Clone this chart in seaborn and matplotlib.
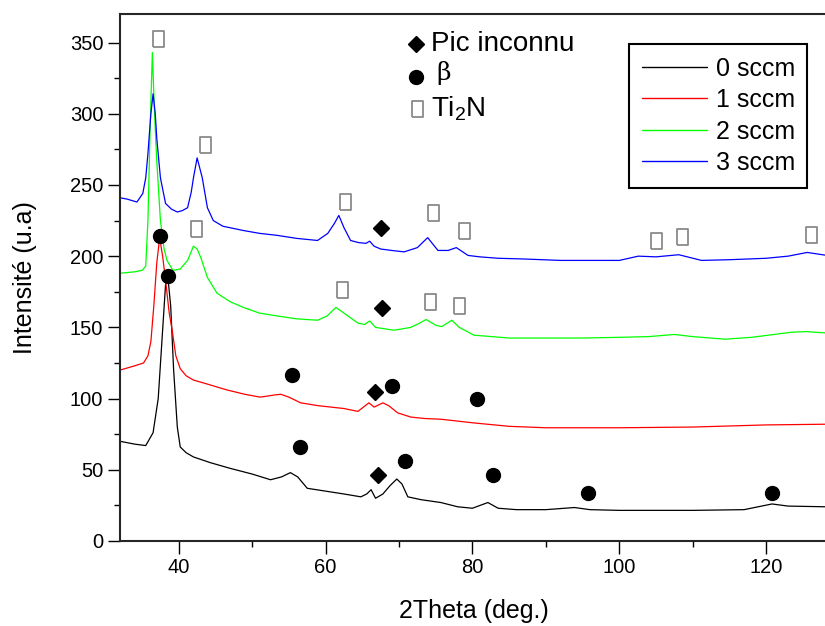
import matplotlib.pyplot as plt
import pandas as pd
import seaborn as sns
from matplotlib.lines import Line2D
from matplotlib.ticker import MultipleLocator

# values
x_0 = [32, 34, 35.5, 36.5, 37.2, 37.7, 38.2, 38.5, 38.9, 39.3, 39.8, 40.2, 41, 42, 44.3, 47, 50, 52.5, 54,
       55.2, 56.2, 57.5, 60, 62.5, 64.8, 65.6, 66.2, 66.8, 67.8, 68.8, 69.7, 70.4, 71.2, 73, 75.7, 78, 80,
       82.1, 83.5, 86, 90, 93.9, 96, 100, 110, 117, 120.8, 123, 128.3]
y_0 = [70, 68, 67, 76, 100, 140, 180, 186, 165, 120, 80, 66, 62, 59, 55, 51, 47, 43, 45,
       48, 45, 37, 35, 33, 31, 33, 36, 30, 33, 39, 43.5, 40, 31, 29, 27, 24, 23,
       27, 23, 22, 22, 23.5, 22, 21.5, 21.5, 22, 26, 24.5, 24]

x_1 = [32, 34, 35.2, 35.8, 36.2, 36.6, 37.0, 37.4, 37.8, 38.2, 38.7, 39.1, 39.6, 40.2, 41, 42, 44, 46.6,
       49, 51.1, 53, 53.9, 55, 56.6, 59, 62.5, 64.4, 65.9, 66.6, 67.8, 68.6, 69.8, 71.6, 73.5, 75.7, 80,
       85, 90, 100, 110, 120, 128.3]
y_1 = [120, 123, 125, 130, 140, 165, 195, 213, 200, 183, 160, 148, 130, 121, 116, 113, 110, 106,
       103, 101, 102.5, 103, 101, 97, 95, 93, 91, 97, 94, 97, 95, 90, 87, 86, 85.5, 83,
       80.5, 79.5, 79.5, 80, 81.5, 82]

x_2 = [32, 34, 35, 35.5, 35.8, 36.1, 36.4, 36.7, 37, 37.5, 38, 38.4, 39.2, 40.2, 41.2, 42, 42.5, 43,
       43.9, 45.2, 47, 48.8, 51, 53.4, 56, 58.9, 60.2, 61.4, 62.5, 64.4, 65.3, 66, 66.8, 68, 69.3, 70.5,
       71.6, 72.8, 73.7, 75, 75.8, 77.2, 78.2, 80.2, 85, 90, 95, 100, 104, 107.5, 110, 114.4, 118, 123.5,
       125.5, 128.3]
y_2 = [188, 189, 190, 193, 225, 290, 343, 300, 267, 225, 205, 197, 190, 191, 197, 207, 205, 199,
       185, 174, 168, 164, 160, 158, 156, 155, 158, 164, 160, 153, 152, 154.5, 150, 149, 148, 149,
       150, 153, 155.5, 151.5, 150.5, 155, 150, 144.5, 142.5, 142.5, 142.5, 143, 143.5, 145, 143.5, 141.7,
       143, 146.6, 147, 146]

x_3 = [32, 33, 34.3, 35.1, 35.5, 35.8, 36.2, 36.5, 36.8, 37, 37.5, 38.2, 39, 39.8, 40.5, 41.2, 41.7, 42,
       42.5, 43.2, 43.9, 44.7, 46, 48.8, 51, 53.4, 56, 58.9, 60.3, 61.2, 61.8, 62.5, 63.4, 64.5, 65.5, 66,
       66.6, 67.5, 69, 70.7, 72.5, 73.9, 75.3, 76.7, 77.8, 79.4, 81, 83.5, 87, 92, 97, 100, 102.6, 105,
       108.1, 111.2, 115, 120, 123, 125.6, 128.3]
y_3 = [241, 240, 238, 244, 255, 272, 300, 314, 300, 283, 255, 237, 233, 231, 232, 234, 245, 255,
       269, 255, 234, 225, 221, 218, 216, 214.6, 212.5, 211, 216, 223, 228.6, 220, 211, 209.5, 209, 210.5,
       207, 205, 204, 203, 206, 213, 204, 204, 206, 200.5, 199.5, 198.5, 198, 197, 197, 197, 200, 199.5,
       201, 197, 197.5, 198.5, 200, 202.6, 200.5]

flows = ["0 sccm", "1 sccm", "2 sccm", "3 sccm"]
colors = ["black", "red", "#00ff00", "blue"]

# peak labels
unknown_x = [67.1, 66.7, 67.7, 67.5]
unknown_y = [46.3, 104.5, 163.4, 219.5]
beta_x = [38.6, 37.5, 55.4, 69.0, 80.6, 56.5, 70.8, 82.8, 95.7, 120.8]
beta_y = [185.8, 213.9, 116.6, 108.7, 99.6, 65.9, 56.1, 46.3, 33.7, 33.7]
ti2n_x = [37.2, 43.6, 62.7, 74.6, 78.9, 105.0, 108.5, 126.1, 42.4, 62.2, 74.2, 78.2]
ti2n_y = [352.7, 277.7, 237.7, 230.0, 218.0, 210.3, 213.2, 214.6, 218.8, 176.0, 167.6, 164.8]

frames = []
for name, xs, ys in zip(flows, [x_0, x_1, x_2, x_3], [y_0, y_1, y_2, y_3]):
    frames.append(pd.DataFrame({"theta": xs, "intensity": ys, "flow": name}))
df = pd.concat(frames, ignore_index=True)

sns.set_style("ticks")
plt.rcParams["font.family"] = ["Liberation Sans", "DejaVu Sans"]
plt.rcParams["text.color"] = "black"
plt.rcParams["axes.labelcolor"] = "black"
plt.rcParams["xtick.color"] = "black"
plt.rcParams["ytick.color"] = "black"

fig = plt.figure(figsize=(8.25, 6.26), dpi=100)
ax = fig.add_axes([0.1455, 0.1358, 0.857, 0.8418])

sns.lineplot(data=df, x="theta", y="intensity", hue="flow", hue_order=flows, palette=colors,
             estimator=None, sort=False, linewidth=0.9, legend=False, ax=ax)

box = [(-0.36, -0.5), (0.36, -0.5), (0.36, 0.5), (-0.36, 0.5), (-0.36, -0.5)]
ax.plot(unknown_x, unknown_y, "D", color="black", markersize=8, linestyle="none")
ax.plot(beta_x, beta_y, "o", color="black", markersize=10, linestyle="none")
ax.plot(ti2n_x, ti2n_y, marker=box, color="#8a8a8a", markerfacecolor="white", markersize=11,
        markeredgewidth=1.3, linestyle="none")

# phase key
ax.plot(0.418, 0.943, "D", color="black", markersize=8, transform=ax.transAxes, clip_on=False)
ax.plot(0.418, 0.881, "o", color="black", markersize=10, transform=ax.transAxes, clip_on=False)
ax.plot(0.420, 0.820, marker=box, color="#8a8a8a", markerfacecolor="white", markersize=11,
        markeredgewidth=1.3, transform=ax.transAxes, clip_on=False)
ax.text(0.44, 0.943, "Pic inconnu", transform=ax.transAxes, fontsize=20, va="center")
ax.text(0.448, 0.888, "β", transform=ax.transAxes, fontsize=18, va="center", family="DejaVu Serif")
ax.text(0.44, 0.820, "Ti$_\\mathregular{2}$N", transform=ax.transAxes, fontsize=20, va="center")

handles = [Line2D([], [], color=c, linewidth=1) for c in colors]
leg = ax.legend(handles, flows, loc="upper right", bbox_to_anchor=(0.972, 0.943), fontsize=18,
                frameon=True, fancybox=False, edgecolor="black", framealpha=1, handlelength=2.6,
                labelspacing=0.3, borderpad=0.5, handletextpad=0.35, borderaxespad=0)
leg.get_frame().set_linewidth(1.5)

ax.set_xlim(32, 128.3)
ax.set_ylim(0, 370)
ax.xaxis.set_major_locator(MultipleLocator(20))
ax.xaxis.set_minor_locator(MultipleLocator(10))
ax.yaxis.set_major_locator(MultipleLocator(50))
ax.yaxis.set_minor_locator(MultipleLocator(25))
ax.tick_params(which="major", direction="out", length=9, width=1, labelsize=14.5, pad=3)
ax.tick_params(which="minor", direction="out", length=4.5, width=1)
for s in ax.spines.values():
    s.set_linewidth(1.5)
ax.set_xlabel("2Theta (deg.)", fontsize=18, labelpad=16)
ax.set_ylabel("Intensité (u.a)", fontsize=18, labelpad=24)

fig.savefig("out.png", dpi=100)
